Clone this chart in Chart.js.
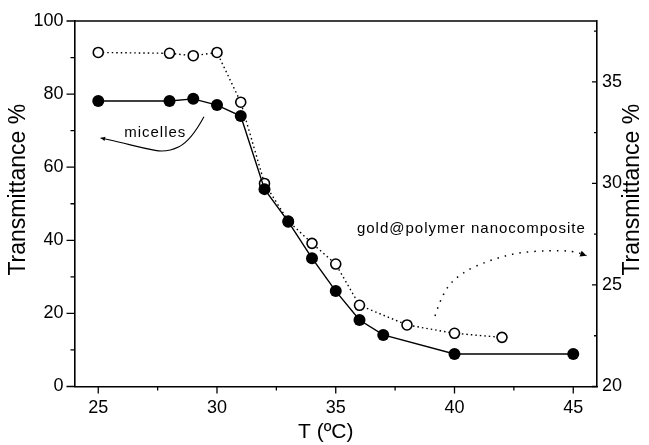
<!DOCTYPE html>
<html>
<head>
<meta charset="utf-8">
<script src="https://cdn.jsdelivr.net/npm/chart.js@4.4.1/dist/chart.umd.min.js"></script>
<style>
html, body { margin: 0; padding: 0; background: #fff; }
#wrap { width: 649px; height: 445px; }
</style>
</head>
<body>
<div id="wrap"><canvas id="myChart" width="649" height="445"></canvas></div>
<script>
// micelles (filled circles, left axis)
const temps_micelles = [25, 28, 29, 30, 31, 32, 33, 34, 35, 36, 37, 40, 45]
const trans_micelles = [78.1, 78.1, 78.7, 77.0, 74.0, 54.0, 45.1, 35.1, 26.1, 18.2, 14.1, 8.9, 8.9]

// gold@polymer nanocomposite (open circles, right axis)
const temps_composite = [25, 28, 29, 30, 31, 32, 33, 34, 35, 36, 38, 40, 42]
const trans_composite = [36.45, 36.41, 36.29, 36.45, 34.0, 30.0, 28.15, 27.05, 26.03, 24.0, 23.03, 22.62, 22.42]

// tick labels
const x_major = [25, 30, 35, 40, 45]
const x_minor = [27.5, 32.5, 37.5, 42.5]
const y_major = [0, 20, 40, 60, 80, 100]
const y_minor = [10, 30, 50, 70, 90]
const y2_major = [20, 25, 30, 35]
const y2_minor = [22.5, 27.5, 32.5, 37.5]

// annotation arrows (in data units: x = T, y = left axis)
const micelles_arrow_x = [29.45, 28.9, 27.9, 26.9, 25.8, 25.1]
const micelles_arrow_y = [73.8, 67.2, 64.0, 65.2, 67.0, 68.0]
const composite_arrow_x = [39.18, 39.5, 40.3, 41.5, 42.7, 44.0, 45.0, 45.56]
const composite_arrow_y = [19.3, 26.0, 31.2, 34.6, 36.7, 37.2, 37.1, 35.8]

const FONT = 'Arial, "Liberation Sans", sans-serif'

const setTicks = (major, minor) => (scale) => {
    scale.ticks = major.concat(minor).sort((a, b) => a - b).map(v => ({ value: v }))
}
const labelIf = (major) => (value) => major.includes(value) ? String(value) : ''

const smoothPath = (ctx, pts) => {
    ctx.beginPath()
    ctx.moveTo(pts[0][0], pts[0][1])
    for (let i = 1; i < pts.length - 1; i++) {
        let mx = (pts[i][0] + pts[i + 1][0]) / 2
        let my = (pts[i][1] + pts[i + 1][1]) / 2
        ctx.quadraticCurveTo(pts[i][0], pts[i][1], mx, my)
    }
    let last = pts[pts.length - 1]
    ctx.lineTo(last[0], last[1])
    ctx.stroke()
}

const arrowHead = (ctx, from, to, size) => {
    let a = Math.atan2(to[1] - from[1], to[0] - from[0])
    ctx.save()
    ctx.setLineDash([])
    ctx.beginPath()
    ctx.moveTo(to[0], to[1])
    ctx.lineTo(to[0] - size * Math.cos(a - 0.45), to[1] - size * Math.sin(a - 0.45))
    ctx.lineTo(to[0] - size * Math.cos(a + 0.45), to[1] - size * Math.sin(a + 0.45))
    ctx.closePath()
    ctx.fill()
    ctx.restore()
}

const extras = {
    id: 'extras',
    afterDraw(chart) {
        const ctx = chart.ctx
        const { x, y, y2 } = chart.scales
        const area = chart.chartArea
        ctx.save()
        ctx.strokeStyle = '#000'
        ctx.fillStyle = '#000'
        ctx.lineWidth = 1.6

        // top frame line
        ctx.beginPath()
        ctx.moveTo(area.left, area.top)
        ctx.lineTo(area.right, area.top)
        ctx.stroke()

        // tick marks
        ctx.lineWidth = 1.3
        ctx.beginPath()
        x.ticks.forEach(t => {
            let px = x.getPixelForValue(t.value)
            let len = x_major.includes(t.value) ? 7 : 4
            ctx.moveTo(px, area.bottom)
            ctx.lineTo(px, area.bottom + len)
        })
        y.ticks.forEach(t => {
            let py = y.getPixelForValue(t.value)
            let len = y_major.includes(t.value) ? 8 : 4
            ctx.moveTo(area.left, py)
            ctx.lineTo(area.left - len, py)
        })
        y2.ticks.forEach(t => {
            let py = y2.getPixelForValue(t.value)
            let len = y2_major.includes(t.value) ? 5 : 3
            ctx.moveTo(area.right, py)
            ctx.lineTo(area.right - len, py)
        })
        ctx.stroke()

        // axis titles
        ctx.font = '23px ' + FONT
        ctx.textAlign = 'center'
        ctx.textBaseline = 'middle'
        let midY = (area.top + area.bottom) / 2 - 14
        ctx.save()
        ctx.translate(19, midY)
        ctx.rotate(-Math.PI / 2)
        ctx.fillText('Transmittance %', 0, 0)
        ctx.restore()
        ctx.save()
        ctx.translate(633, midY)
        ctx.rotate(-Math.PI / 2)
        ctx.fillText('Transmittance %', 0, 0)
        ctx.restore()
        ctx.font = '21px ' + FONT
        ctx.fillText('T (ºC)', (area.left + area.right) / 2 - 10, 432)

        // annotations
        ctx.lineWidth = 1.1
        let mPts = micelles_arrow_x.map((v, i) => [x.getPixelForValue(v), y.getPixelForValue(micelles_arrow_y[i])])
        smoothPath(ctx, mPts)
        arrowHead(ctx, mPts[mPts.length - 2], mPts[mPts.length - 1], 5)

        ctx.lineWidth = 1.5
        ctx.setLineDash([1.5, 6])
        let cPts = composite_arrow_x.map((v, i) => [x.getPixelForValue(v), y.getPixelForValue(composite_arrow_y[i])])
        smoothPath(ctx, cPts)
        ctx.setLineDash([])
        arrowHead(ctx, cPts[cPts.length - 2], cPts[cPts.length - 1], 7)

        ctx.font = '15px ' + FONT
        ctx.textAlign = 'left'
        ctx.textBaseline = 'alphabetic'
        ctx.letterSpacing = '1px'
        ctx.fillText('micelles', x.getPixelForValue(26.09), y.getPixelForValue(68.3))
        ctx.fillText('gold@polymer nanocomposite', x.getPixelForValue(35.89), y.getPixelForValue(42.0))
        ctx.restore()
    }
}

const ctx = document.getElementById('myChart')

const myChart = new Chart(ctx, {
    type: 'line',
    data: {
        datasets: [
            {
                label: 'micelles',
                data: temps_micelles.map((t, i) => ({ x: t, y: trans_micelles[i] })),
                yAxisID: 'y',
                borderColor: '#000',
                borderWidth: 1.4,
                pointRadius: 6,
                pointBackgroundColor: '#000',
                pointBorderColor: '#000',
                pointBorderWidth: 0,
                tension: 0,
                fill: false
            },
            {
                label: 'gold@polymer nanocomposite',
                data: temps_composite.map((t, i) => ({ x: t, y: trans_composite[i] })),
                yAxisID: 'y2',
                borderColor: '#000',
                borderWidth: 1.4,
                borderDash: [1.5, 3],
                pointRadius: 5,
                pointBackgroundColor: '#fff',
                pointBorderColor: '#000',
                pointBorderWidth: 1.6,
                tension: 0,
                fill: false
            }
        ]
    },
    options: {
        responsive: false,
        animation: false,
        devicePixelRatio: 1,
        layout: { padding: { top: 21, left: 0, right: 0, bottom: 0 } },
        plugins: {
            legend: { display: false },
            tooltip: { enabled: false }
        },
        scales: {
            x: {
                type: 'linear',
                position: 'bottom',
                min: 24,
                max: 46,
                afterBuildTicks: setTicks(x_major, x_minor),
                afterFit: (scale) => { scale.height = 58.5 },
                grid: { display: true, drawOnChartArea: false, drawTicks: true, tickLength: 8, color: 'rgba(0,0,0,0)' },
                border: { display: true, color: '#000', width: 1.6 },
                ticks: {
                    callback: labelIf(x_major),
                    autoSkip: false,
                    maxRotation: 0,
                    padding: 3,
                    color: '#000',
                    font: { family: FONT, size: 18 }
                }
            },
            y: {
                type: 'linear',
                position: 'left',
                min: 0,
                max: 100,
                afterBuildTicks: setTicks(y_major, y_minor),
                afterFit: (scale) => { scale.width = 74.5 },
                grid: { display: true, drawOnChartArea: false, drawTicks: true, tickLength: 8, color: 'rgba(0,0,0,0)' },
                border: { display: true, color: '#000', width: 1.6 },
                ticks: {
                    callback: labelIf(y_major),
                    autoSkip: false,
                    padding: 3,
                    color: '#000',
                    font: { family: FONT, size: 18 }
                }
            },
            y2: {
                type: 'linear',
                position: 'right',
                min: 20,
                max: 38,
                afterBuildTicks: setTicks(y2_major, y2_minor),
                afterFit: (scale) => { scale.width = 52 },
                grid: { display: true, drawOnChartArea: false, drawTicks: true, tickLength: 2, color: 'rgba(0,0,0,0)' },
                border: { display: true, color: '#000', width: 1.6 },
                ticks: {
                    callback: labelIf(y2_major),
                    autoSkip: false,
                    padding: 3,
                    color: '#000',
                    font: { family: FONT, size: 18 }
                }
            }
        }
    },
    plugins: [extras]
})
</script>
</body>
</html>
